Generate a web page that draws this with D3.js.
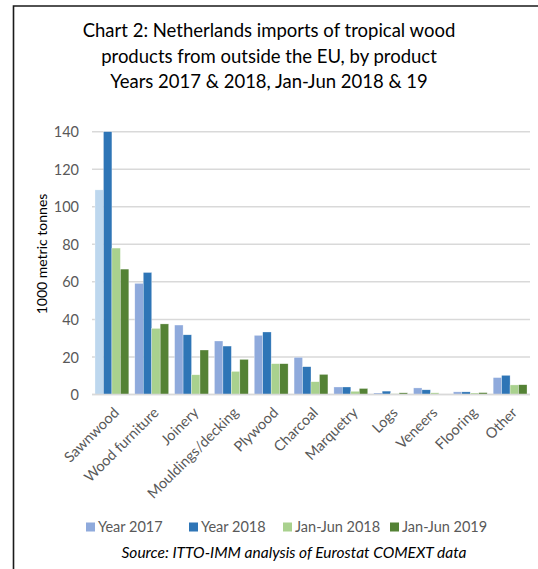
<!DOCTYPE html>
<html><head><meta charset="utf-8">
<script src="https://cdn.jsdelivr.net/npm/d3@7"></script>
<style>
body{margin:0;background:#fff;}
svg{display:block;font-family:Lato, "Open Sans", sans-serif;}
</style></head>
<body><svg id="c" width="538" height="569"></svg>
<script>
const categories = ["Sawnwood","Wood furniture","Joinery","Mouldings/decking","Plywood","Charcoal","Marquetry","Logs","Veneers","Flooring","Other"];
const seriesNames = ["Year 2017","Year 2018","Jan-Jun 2018","Jan-Jun 2019"];
const year2017 = [109, 59.2, 37, 28.5, 31.5, 19.8, 4, 0.8, 3.5, 1.4, 9];
const year2018 = [140, 65, 31.8, 25.8, 33.3, 14.8, 4, 1.8, 2.5, 1.4, 10.2];
const janJun2018 = [78, 35.2, 10.5, 12.3, 16.4, 6.8, 1.7, 0.4, 0.9, 0.8, 5.1];
const janJun2019 = [66.8, 37.6, 23.7, 18.7, 16.4, 10.7, 3.2, 0.9, 0, 1, 5.2];
const yTicks = [0,20,40,60,80,100,120,140];
const colors = ["#8faadc","#2e75b6","#a9d18e","#548235"];
const highlightColor = "#bdd7ee"; // Sawnwood 2017 bar drawn lighter

const series = [year2017, year2018, janJun2018, janJun2019];
const svg = d3.select("#c");

// frame
svg.append("path").attr("d","M13.5,569 L13.5,6 L538,6").attr("fill","none").attr("stroke","#1a1a1a").attr("stroke-width",1.6);

// title
const titleLines = ["Chart 2: Netherlands imports of tropical wood","products from outside the EU, by product","Years 2017 & 2018, Jan-Jun 2018 & 19"];
svg.append("g").selectAll("text").data(titleLines).join("text")
  .attr("x",269).attr("y",(d,i)=>37+i*25.5).attr("text-anchor","middle")
  .attr("font-size",18.5).attr("fill","#000").text(d=>d);

const m = {left:92, right:530, top:131.7, bottom:394.5};
const x = d3.scaleBand().domain(categories).range([m.left,m.right]).paddingInner(0.15).paddingOuter(0.075);
const xs = d3.scaleBand().domain(d3.range(4)).range([0,x.bandwidth()]);
const y = d3.scaleLinear().domain([0,140]).range([m.bottom,m.top]);

// gridlines
svg.append("g").selectAll("line").data(yTicks).join("line")
  .attr("x1",m.left).attr("x2",m.right).attr("y1",d=>y(d)).attr("y2",d=>y(d))
  .attr("stroke","#d9d9d9").attr("stroke-width",1.5);

// y axis labels
const ya = svg.append("g").attr("transform",`translate(${m.left-13},0)`)
  .call(d3.axisLeft(y).tickValues(yTicks).tickSize(0).tickPadding(0));
ya.select(".domain").remove();
ya.selectAll("text").attr("font-size",14.5).attr("fill","#595959").attr("font-family","Lato, sans-serif").attr("dy","0.35em");

// y title
svg.append("text").attr("transform","translate(47,254) rotate(-90)").attr("text-anchor","middle")
  .attr("font-size",14).attr("fill","#000").text("1000 metric tonnes");

// bars
const groups = svg.append("g").selectAll("g").data(series).join("g");
groups.each(function(vals, si){
  d3.select(this).selectAll("rect").data(vals).join("rect")
    .attr("x",(d,ci)=>x(categories[ci])+xs(si))
    .attr("width",xs.bandwidth())
    .attr("y",d=>y(d))
    .attr("height",d=>y(0)-y(d))
    .attr("fill",(d,ci)=> (si===0 && ci===0) ? highlightColor : colors[si])
    .attr("stroke","#fff").attr("stroke-width",0.5).attr("stroke-opacity",0.6);
});

// baseline
svg.append("line").attr("x1",m.left).attr("x2",m.right).attr("y1",y(0)).attr("y2",y(0)).attr("stroke","#d9d9d9").attr("stroke-width",1.5);

// x axis labels
const xa = svg.append("g").attr("transform",`translate(0,${m.bottom})`)
  .call(d3.axisBottom(x).tickSize(0).tickPadding(0));
xa.select(".domain").remove();
xa.selectAll("text").attr("font-size",14.5).attr("fill","#595959").attr("font-family","Lato, sans-serif")
  .attr("text-anchor","end").attr("dy",null).attr("y",0)
  .attr("transform","translate(8,19) rotate(-45)");

// legend
const legX = [86,189,283,390];
const leg = svg.append("g").selectAll("g").data(seriesNames).join("g")
  .attr("transform",(d,i)=>`translate(${legX[i]},527)`);
leg.append("rect").attr("x",0).attr("y",-4.5).attr("width",9).attr("height",9).attr("fill",(d,i)=>colors[i]);
leg.append("text").attr("x",12).attr("y",0).attr("dy","0.35em").attr("font-size",14.5).attr("fill","#595959").text(d=>d);

// source
svg.append("text").attr("x",294).attr("y",558).attr("text-anchor","middle").attr("font-style","italic")
  .attr("font-size",15.5).attr("fill","#000").text("Source: ITTO-IMM analysis of Eurostat COMEXT data");
</script></body></html>
